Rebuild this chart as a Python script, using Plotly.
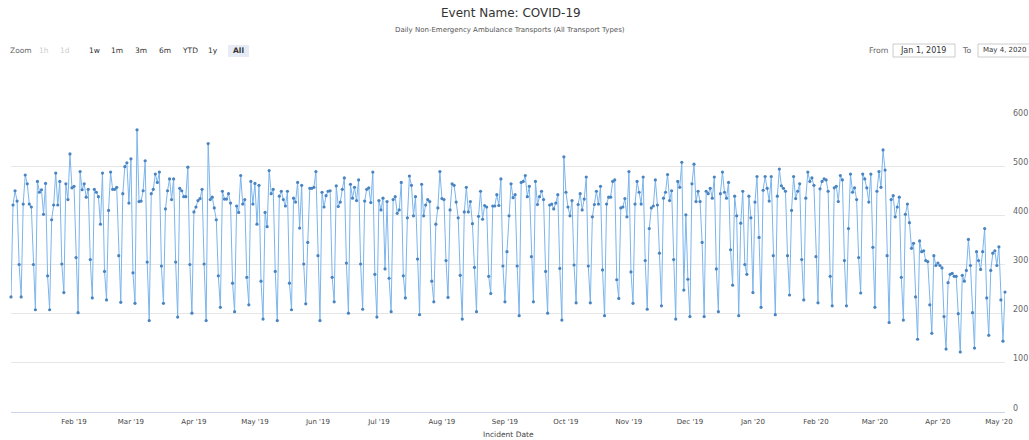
import pandas as pd
import plotly.graph_objects as go

# Daily values (Jan 1, 2019 .. May 4, 2020)
jan19 = [234, 421, 450, 429, 300, 234, 423, 482, 464, 423, 417, 300, 208, 469, 447, 452, 402, 465, 277, 208, 391, 421, 486, 421, 469, 301, 243, 464, 432, 525, 456]
feb19 = [459, 314, 202, 489, 452, 464, 437, 453, 310, 232, 453, 447, 438, 382, 486, 286, 228, 410, 488, 453, 453, 457, 318, 223, 444, 499, 507, 425]
mar19 = [515, 283, 221, 574, 428, 429, 450, 511, 305, 186, 444, 453, 484, 467, 488, 297, 221, 413, 450, 474, 432, 474, 305, 193, 455, 450, 438, 438, 498, 300, 201]
apr19 = [407, 417, 430, 434, 453, 301, 186, 546, 432, 437, 415, 391, 277, 213, 449, 433, 433, 444, 425, 262, 204, 419, 406, 481, 423, 432, 274, 218, 469, 423]
may19 = [465, 382, 461, 266, 189, 406, 377, 491, 444, 453, 286, 186, 439, 449, 432, 419, 449, 262, 208, 435, 427, 467, 374, 461, 301, 220, 345, 455, 455, 457, 489]
jun19 = [318, 186, 447, 417, 440, 449, 450, 274, 224, 460, 418, 427, 453, 476, 303, 201, 463, 435, 457, 430, 472, 301, 209, 429, 453, 456, 426, 488, 280, 193]
jul19 = [430, 411, 435, 291, 428, 272, 204, 432, 438, 404, 411, 467, 277, 232, 395, 480, 461, 399, 438, 311, 198, 463, 399, 421, 432, 428, 266, 224, 382, 415, 489]
aug19 = [434, 432, 308, 233, 411, 464, 461, 427, 395, 278, 189, 407, 457, 407, 428, 383, 294, 204, 398, 449, 392, 420, 417, 276, 241, 419, 419, 442, 420, 474, 297]
sep19 = [224, 326, 399, 464, 436, 442, 297, 196, 467, 469, 481, 438, 459, 316, 224, 469, 422, 438, 449, 432, 286, 201, 421, 423, 413, 425, 442, 292, 187, 519]
oct19 = [447, 417, 399, 430, 299, 222, 422, 444, 411, 433, 478, 297, 222, 397, 422, 449, 423, 459, 289, 196, 423, 437, 437, 469, 472, 269, 231, 415, 417, 434, 397]
nov19 = [489, 285, 221, 423, 469, 447, 423, 478, 308, 209, 373, 415, 419, 472, 421, 323, 216, 435, 447, 483, 430, 450, 310, 189, 469, 457, 508, 248, 401, 270]
dec19 = [194, 464, 504, 428, 449, 428, 345, 194, 449, 444, 455, 435, 478, 291, 204, 444, 488, 447, 435, 467, 330, 258, 439, 399, 196, 384, 449, 300, 280, 439, 395]
jan20 = [243, 427, 479, 355, 213, 451, 479, 455, 429, 479, 318, 198, 439, 494, 460, 455, 449, 318, 238, 410, 479, 434, 449, 464, 310, 228, 435, 488, 469, 476, 461]
feb20 = [316, 222, 454, 469, 474, 472, 449, 276, 216, 456, 459, 428, 481, 472, 308, 216, 373, 484, 447, 456, 432, 314, 242, 484, 474, 456, 427, 484, 335]
mar20 = [213, 449, 489, 457, 533, 492, 318, 182, 432, 440, 397, 417, 437, 274, 187, 402, 423, 385, 333, 343, 234, 148, 348, 326, 328, 308, 306, 218, 160, 318, 298]
apr20 = [303, 298, 293, 194, 128, 263, 280, 282, 276, 276, 200, 122, 278, 266, 288, 351, 298, 202, 130, 326, 308, 290, 326, 373, 232, 156, 288, 323, 328, 298]
may20 = [336, 228, 144, 244]

months = [jan19, feb19, mar19, apr19, may19, jun19, jul19, aug19, sep19, oct19, nov19,
          dec19, jan20, feb20, mar20, apr20, may20]
values = [v for m in months for v in m]
start_date = "2019-01-01"
end_date = "2020-05-04"
dates = pd.date_range(start_date, periods=len(values), freq="D")

y_ticks = [0, 100, 200, 300, 400, 500, 600]
zoom_buttons = ["1h", "1d", "1w", "1m", "3m", "6m", "YTD", "1y", "All"]
disabled_buttons = ["1h", "1d"]

title_text = "Event Name: COVID-19"
subtitle_text = "Daily Non-Emergency Ambulance Transports (All Transport Types)"
x_title = "Incident Date"
from_text = "Jan 1, 2019"
to_text = "May 4, 2020"

# ---- layout geometry (screen pixels; the page margin is removed below) ----
W, H = 1029, 440
PL, PR, PT, PB = 11, 1005, 117, 412
L, R, T, B = PL, W - PR, PT, H - PB
PW, PH = W - L - R, H - T - B
FONT = "DejaVu Sans"


def px(x):
    return (x - L) / PW


def py(y):
    return (H - B - y) / PH


fig = go.Figure()
fig.add_trace(go.Scatter(
    x=dates, y=values, mode="lines+markers",
    line=dict(color="#7cb5ec", width=1),
    marker=dict(size=3.2, color="#4a84c0"),
    cliponaxis=False, showlegend=False, hoverinfo="x+y",
))

annotations = []
shapes = []


def text(x, y, s, size, color, xanchor="center", bold=False):
    annotations.append(dict(
        x=px(x), y=py(y), xref="paper", yref="paper",
        text=("<b>%s</b>" % s) if bold else s,
        showarrow=False, xanchor=xanchor, yanchor="middle",
        font=dict(family=FONT, size=size, color=color),
    ))


def rect(x0, y0, x1, y1, fill, line_color=None):
    shapes.append(dict(
        type="rect", xref="paper", yref="paper",
        x0=px(x0), x1=px(x1), y0=py(y1), y1=py(y0), fillcolor=fill,
        line=dict(color=line_color or fill, width=1 if line_color else 0),
    ))


text(511, 13, title_text, 12, "#333333")
text(510, 30, subtitle_text, 7, "#555555")
text(508, 434, x_title, 7.5, "#444444")

# y-axis labels on the right, sitting slightly above their grid lines
for v in y_ticks:
    annotations.append(dict(
        x=1.0, y=v, xref="paper", yref="y", text=str(v), showarrow=False,
        xanchor="left", yanchor="middle", xshift=6, yshift=4,
        font=dict(family=FONT, size=8, color="#666666"),
    ))

# range selector
text(8, 51, "Zoom", 7.5, "#666666", xanchor="left")
btn_x = [44, 65, 94, 117, 141, 165, 190, 213, 238]
for b, bx in zip(zoom_buttons, btn_x):
    if b == "All":
        rect(228, 45, 249, 57, "#e6ebf5")
    col = "#cccccc" if b in disabled_buttons else "#333333"
    text(bx, 51, b, 7.5, col, bold=(b == "All"))

# from / to inputs
text(878, 50, "From", 7.8, "#666666")
rect(893, 44, 955, 57, "white", "#cccccc")
text(923, 50, from_text, 8, "#333333")
text(966, 50, "To", 7.8, "#666666")
rect(978, 44, 1045, 57, "white", "#cccccc")
text(981, 50, to_text, 7, "#333333", xanchor="left")

fig.update_layout(
    width=W, height=H,
    margin=dict(l=L, r=R, t=T, b=B, pad=0),
    paper_bgcolor="white", plot_bgcolor="white",
    font=dict(family=FONT, color="#666666"),
    annotations=annotations, shapes=shapes,
    showlegend=False,
    xaxis=dict(
        type="date", range=[start_date, end_date],
        showgrid=False, showline=True, linecolor="#ccd6eb", linewidth=1,
        ticks="", dtick="M1", tick0="2019-02-01", tickformat="%b '%y",
        tickfont=dict(family=FONT, size=7, color="#444444"),
        ticklabelstandoff=3,
        zeroline=False, fixedrange=True,
    ),
    yaxis=dict(
        range=[0, 600], side="right", tickvals=y_ticks,
        showgrid=True, gridcolor="#e6e6e6", gridwidth=1,
        zeroline=False, showline=False, ticks="", showticklabels=False,
        fixedrange=True,
    ),
)

fig.write_html(
    "out.html",
    config={"displayModeBar": False},
    post_script="document.body.style.margin='0';document.body.style.overflow='hidden';",
)
